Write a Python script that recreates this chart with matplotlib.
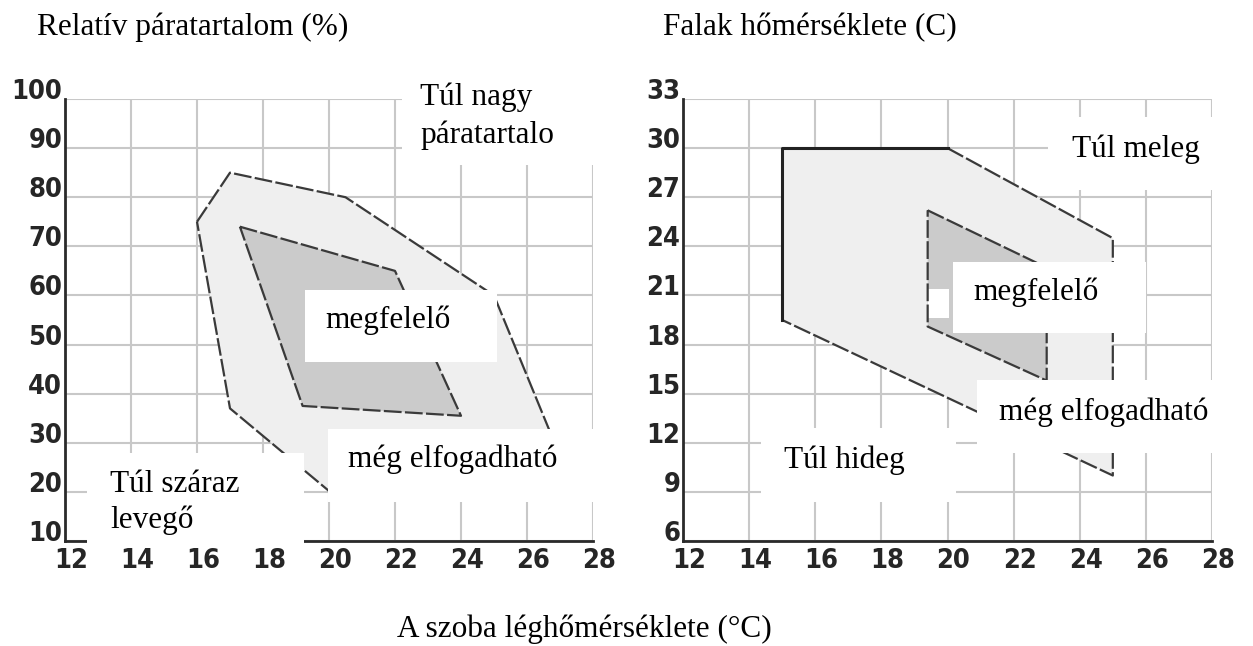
import matplotlib.pyplot as plt
from matplotlib.patches import Rectangle
from matplotlib.transforms import ScaledTranslation
from matplotlib import font_manager as fm

# --- adatok ---
t_ticks = [12, 14, 16, 18, 20, 22, 24, 26, 28]
rh_ticks = [10, 20, 30, 40, 50, 60, 70, 80, 90, 100]
wall_ticks = [6, 9, 12, 15, 18, 21, 24, 27, 30, 33]

# relatív páratartalom - még elfogadható (külső) és megfelelő (belső) tartomány
rh_outer_t = [16, 17, 20.5, 25, 27.2, 20.3, 17]
rh_outer_v = [75, 85, 80, 60, 24, 18.5, 37]
rh_inner_t = [17.3, 22, 24, 19.2]
rh_inner_v = [74, 65, 35.5, 37.5]

# falak hőmérséklete
wall_outer_t = [15, 20, 25, 25, 15]
wall_outer_v = [30, 30, 24.5, 10, 19.5]
wall_inner_t = [19.4, 23, 23, 19.4]
wall_inner_v = [26.2, 22.7, 15.8, 19.1]

W, H = 1253, 646
fig = plt.figure(figsize=(W / 100, H / 100), dpi=100)
fig.patch.set_facecolor('white')

SERIF = 'Liberation Serif'
FS = 22.5
DASH = (0, (8, 1.5))
TICKFONT = fm.FontProperties(family='DejaVu Sans', stretch='condensed',
                             weight='bold', size=19.5)


def px_axes(x0, x1, y0, y1):
    return fig.add_axes([x0 / W, 1 - y1 / H, (x1 - x0) / W, (y1 - y0) / H])


def setup(ax, yticks):
    ax.set_xlim(t_ticks[0], t_ticks[-1])
    ax.set_ylim(yticks[0], yticks[-1])
    ax.grid(True, color='#c8c8c8', lw=1.5, zorder=0)
    ax.set_axisbelow(True)
    for s in ['top', 'right']:
        ax.spines[s].set_visible(False)
    for s in ['left', 'bottom']:
        ax.spines[s].set_color('#2a2a2a')
        ax.spines[s].set_linewidth(2)
        ax.spines[s].set_zorder(5)
    ax.tick_params(axis='both', length=0, labelcolor='#262626')
    ax.tick_params(axis='y', pad=2)
    ax.tick_params(axis='x', pad=5)
    ax.set_xticks(t_ticks)
    ax.set_yticks(yticks)
    ax.set_xticklabels([str(v) for v in t_ticks], fontproperties=TICKFONT)
    ax.set_yticklabels([str(v) for v in yticks], fontproperties=TICKFONT,
                       va='baseline')
    off = ScaledTranslation(6 / 100, 0, fig.dpi_scale_trans)
    for lab in ax.get_xticklabels():
        lab.set_transform(lab.get_transform() + off)


def zone(ax, tx, vy, color):
    ax.fill(tx, vy, color=color, lw=0, zorder=1)


def edge(ax, tx, vy):
    ax.plot(tx + tx[:1], vy + vy[:1], color='#3a3a3a', lw=1.6, ls=DASH, zorder=3)


def box(x0, x1, y0, y1):
    fig.patches.append(Rectangle((x0 / W, 1 - y1 / H), (x1 - x0) / W, (y1 - y0) / H,
                                 transform=fig.transFigure, facecolor='white',
                                 edgecolor='none', zorder=10))


def label(x, y, s):
    fig.text(x / W, 1 - y / H, s, family=SERIF, fontsize=FS, va='baseline',
             ha='left', zorder=11)


# bal oldali diagram
ax1 = px_axes(65, 593, 99, 541)
setup(ax1, rh_ticks)
zone(ax1, rh_outer_t, rh_outer_v, '#efefef')
zone(ax1, rh_inner_t, rh_inner_v, '#cbcbcb')
edge(ax1, rh_outer_t, rh_outer_v)
edge(ax1, rh_inner_t, rh_inner_v)

# jobb oldali diagram
ax2 = px_axes(683, 1212, 99, 541)
setup(ax2, wall_ticks)
zone(ax2, wall_outer_t, wall_outer_v, '#efefef')
zone(ax2, wall_inner_t, wall_inner_v, '#cbcbcb')
ax2.add_patch(Rectangle((19.4, 19.6), 0.65, 1.8, facecolor='white', lw=0, zorder=2))
# bal és felső oldal folytonos, a többi szaggatott
ax2.plot(wall_outer_t[-1:] + wall_outer_t[:2], wall_outer_v[-1:] + wall_outer_v[:2],
         color='#222222', lw=2.2, zorder=4)
ax2.plot(wall_outer_t[1:], wall_outer_v[1:], color='#3a3a3a', lw=1.6, ls=DASH, zorder=3)
edge(ax2, wall_inner_t, wall_inner_v)

# feliratok dobozai
box(402, 597, 80, 165)
box(305, 497, 290, 362)
box(328, 597, 429, 502)
box(87, 304, 453, 548)
box(1048, 1240, 117, 190)
box(953, 1146, 262, 333)
box(977, 1242, 380, 453)
box(761, 956, 428, 502)

label(420, 105, 'Túl nagy')
label(420, 143, 'páratartalo')
label(325, 328, 'megfelelő')
label(348, 467, 'még elfogadható')
label(110, 492, 'Túl száraz')
label(110, 528, 'levegő')

label(1072, 157, 'Túl meleg')
label(973, 300, 'megfelelő')
label(999, 420, 'még elfogadható')
label(784, 468, 'Túl hideg')

label(37, 35, 'Relatív páratartalom (%)')
label(663, 35, 'Falak hőmérséklete (C)')
label(397, 637, 'A szoba léghőmérséklete (°C)')

fig.savefig('out.png', dpi=100)
